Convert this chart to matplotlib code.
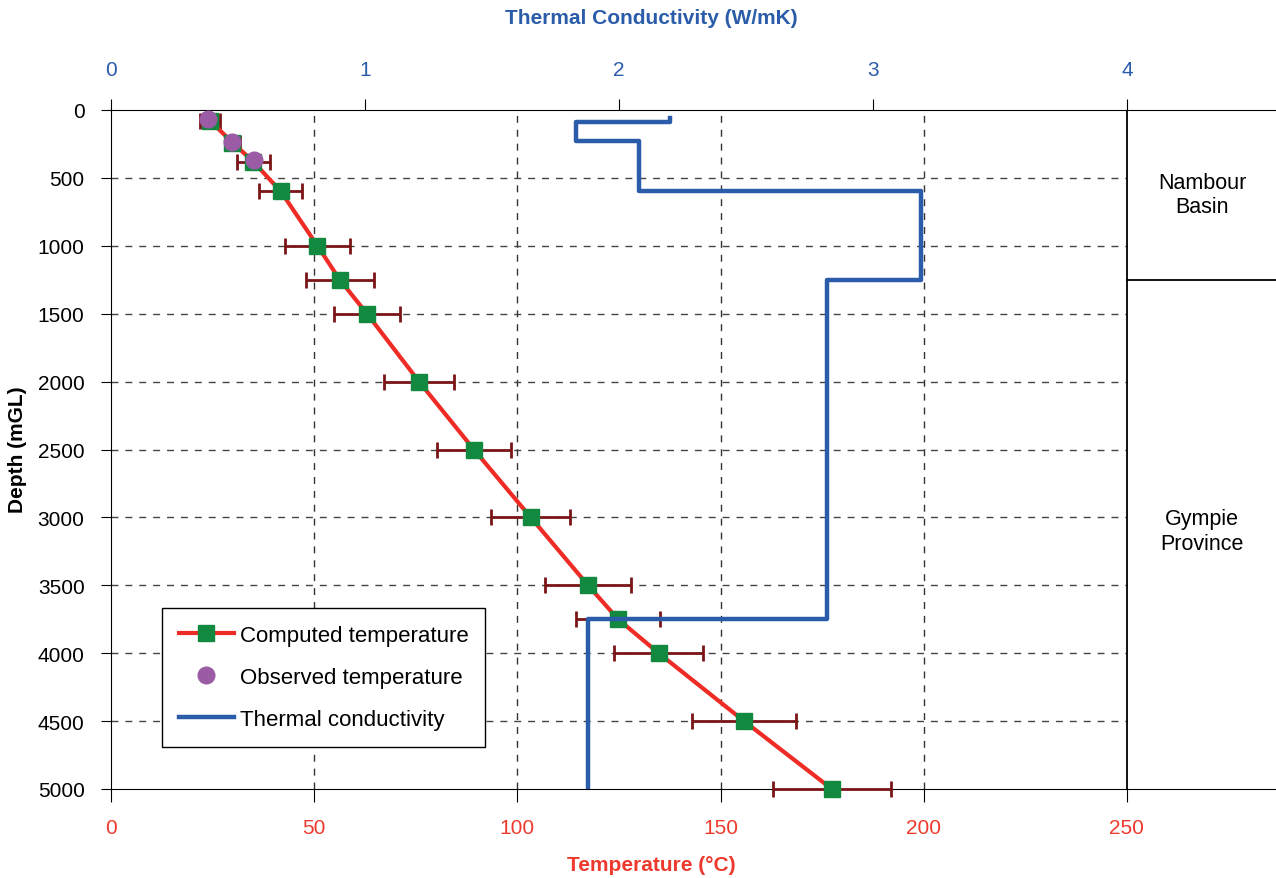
import numpy as np
import matplotlib
matplotlib.use('Agg')
import matplotlib.pyplot as plt

plt.rcParams['font.family'] = ['Liberation Sans', 'DejaVu Sans']
plt.rcParams['font.size'] = 15

# Datos: temperatura calculada (°C) con barras de error
prof_calc = np.array([80, 240, 380, 600, 1000, 1250, 1500, 2000, 2500, 3000, 3500, 3750, 4000, 4500, 5000])
temp_calc = np.array([24.4, 29.9, 35.0, 41.8, 50.8, 56.3, 63.0, 75.8, 89.3, 103.3, 117.4, 124.8, 134.8, 155.8, 177.4])
err_calc = np.array([2.5, 1.8, 4.1, 5.3, 8.0, 8.3, 8.1, 8.6, 9.1, 9.7, 10.5, 10.3, 10.9, 12.7, 14.5])

# Temperatura observada
prof_obs = np.array([65, 233, 368])
temp_obs = np.array([23.9, 29.9, 35.2])

# Conductividad térmica por capas (W/mK)
capa_tope = np.array([60, 90, 230, 600, 1250, 3750])
capa_base = np.array([90, 230, 600, 1250, 3750, 5000])
conductividad = np.array([2.2, 1.83, 2.08, 3.19, 2.82, 1.88])

# Unidades geológicas
unidades = ['Nambour\nBasin', 'Gympie\nProvince']
prof_unidades = [620, 3100]
limite_unidad = 1250

T_MAX = 286.7
T_FIN = 250
K_POR_T = 1 / 62.5

azul = '#2A5CAA'
rojo = '#EE3A2E'

fig = plt.figure(figsize=(12.76, 8.79), dpi=100)
ax = fig.add_axes([111 / 1276, 1 - 790 / 879, 1 - 111 / 1276, 679 / 879])

ax.set_xlim(0, T_MAX)
ax.set_ylim(5000, 0)
ax.set_xticks(np.arange(0, T_FIN + 1, 50))
ax.set_yticks(np.arange(0, 5001, 500))
ax.spines['right'].set_visible(False)
ax.tick_params(axis='x', direction='out', length=9, pad=12, colors='black', labelcolor=rojo)
ax.tick_params(axis='y', direction='out', length=7, pad=12)

# Rejilla discontinua solo hasta 250 °C
for t in np.arange(50, T_FIN, 50):
    ax.axvline(t, linestyle=(0, (5, 5)), color='#333333', linewidth=1.0, zorder=1)
for d in np.arange(500, 5000, 500):
    ax.plot([0, T_FIN], [d, d], linestyle=(0, (5, 5)), color='#444444', linewidth=1.0, zorder=1)

ax.axvline(T_FIN, color='black', linewidth=1.3)
ax.plot([T_FIN, T_MAX], [limite_unidad, limite_unidad], color='black', linewidth=1.3)
for txt, d in zip(unidades, prof_unidades):
    ax.text(268.5, d, txt, ha='center', va='center', fontsize=15.5)

ax.errorbar(temp_calc, prof_calc, xerr=err_calc, fmt='none', ecolor='#7A1518',
            elinewidth=2, capsize=6, capthick=2, zorder=3, clip_on=False)
l1, = ax.plot(temp_calc, prof_calc, '-s', color='#EE2B24', linewidth=3,
              markerfacecolor='#13893F', markeredgecolor='#13893F', markersize=11,
              label='Computed temperature', zorder=4, clip_on=False)
l2, = ax.plot(temp_obs, prof_obs, 'o', color='#9B5BA5', markersize=12,
              label='Observed temperature', zorder=5, clip_on=False)

ax2 = ax.twiny()
ax2.set_xlim(0, T_MAX * K_POR_T)
ax2.set_xticks(np.arange(0, 5, 1))
ax2.tick_params(axis='x', direction='out', length=8, pad=14, labelcolor=azul)
for s in ['left', 'right', 'bottom', 'top']:
    ax2.spines[s].set_visible(False)

k_path = []
d_path = []
for k, t, b in zip(conductividad, capa_tope, capa_base):
    k_path += [k, k]
    d_path += [t, b]
l3, = ax2.plot(k_path, d_path, color=azul, linewidth=3.2, label='Thermal conductivity', zorder=6)
ax2.set_ylim(5000, 0)

leg = ax2.legend(handles=[l1, l2, l3], loc='lower left',
                 bbox_to_anchor=(0.0438, 0.062), fontsize=16, frameon=True,
                 fancybox=False, edgecolor='black', framealpha=1,
                 handlelength=2.5, handletextpad=0.25, labelspacing=0.95,
                 borderpad=0.75, borderaxespad=0)
leg.get_frame().set_linewidth(1.0)

fig.text(651 / 1276, 1 - 18 / 879, 'Thermal Conductivity (W/mK)', color=azul,
         fontsize=15, fontweight='bold', ha='center', va='center')
fig.text(651 / 1276, 1 - 866 / 879, 'Temperature (°C)', color=rojo,
         fontsize=15, fontweight='bold', ha='center', va='center')
fig.text(18 / 1276, 1 - 450 / 879, 'Depth (mGL)', color='black',
         fontsize=15, fontweight='bold', ha='center', va='center', rotation=90)

fig.savefig('out.png', dpi=100)
